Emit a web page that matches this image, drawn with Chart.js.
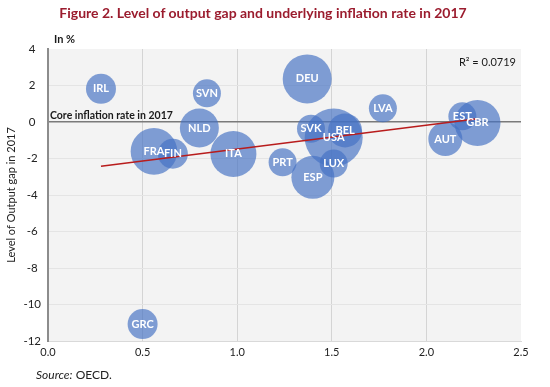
<!DOCTYPE html>
<html>
<head>
<meta charset="utf-8">
<script src="https://cdn.jsdelivr.net/npm/chart.js@4.4.1/dist/chart.umd.min.js"></script>
<style>
  html, body { margin: 0; padding: 0; background: #fff; }
  #wrap { position: relative; width: 550px; height: 387px; font-family: Lato, sans-serif; }
  #title { position: absolute; left: 0; top: 4px; width: 526px; text-align: center; color: #9b1c2e; font-size: 14px; font-weight: bold; }
  #source { position: absolute; left: 36px; top: 367px; font-size: 12px; color: #222; }
  canvas { position: absolute; left: 0; top: 0; }
</style>
</head>
<body>
<div id="wrap">
  <canvas id="chart" width="550" height="387"></canvas>
  <div id="title">Figure 2. Level of output gap and underlying inflation rate in 2017</div>
  <div id="source"><i>Source:</i> OECD.</div>
</div>
<script>
// data
const countries = ['IRL', 'SVN', 'NLD', 'FRA', 'FIN', 'ITA', 'PRT', 'DEU', 'SVK', 'USA', 'BEL', 'LUX', 'ESP', 'LVA', 'EST', 'GBR', 'AUT', 'GRC'];
const coreInflation = [0.28, 0.84, 0.80, 0.56, 0.66, 0.98, 1.24, 1.37, 1.39, 1.51, 1.57, 1.51, 1.40, 1.77, 2.19, 2.27, 2.10, 0.50];
const outputGap = [1.82, 1.57, -0.33, -1.61, -1.74, -1.75, -2.21, 2.36, -0.37, -0.85, -0.46, -2.28, -3.03, 0.75, 0.31, -0.05, -0.93, -11.07];
const bubbleSize = [15, 14, 19.5, 23.3, 15, 23, 14, 24.5, 14, 29, 17, 14, 21.5, 14, 14, 23, 17, 15];

// trend line ends (linear fit shown in the figure)
const trendX = [0.28, 2.27];
const trendY = [-2.42, 0.18];

const xTicks = [0, 0.5, 1.0, 1.5, 2.0, 2.5];
const yTicks = [4, 2, 0, -2, -4, -6, -8, -10, -12];

const FONT = 'Lato, sans-serif';

const plotBg = {
    id: 'plotBg',
    beforeDraw(chart) {
        const { ctx, chartArea: a } = chart;
        ctx.save();
        ctx.fillStyle = '#f3f3f3';
        ctx.fillRect(a.left, a.top, a.right - a.left, a.bottom - a.top);
        ctx.restore();
    }
};

const labels = {
    id: 'labels',
    afterDatasetsDraw(chart) {
        const { ctx, chartArea: a, scales } = chart;
        const meta = chart.getDatasetMeta(1);
        ctx.save();
        ctx.fillStyle = '#fff';
        ctx.font = 'bold 11px ' + FONT;
        ctx.textAlign = 'center';
        ctx.textBaseline = 'middle';
        meta.data.forEach((el, i) => ctx.fillText(countries[i], el.x, el.y));

        ctx.fillStyle = '#1a1a1a';
        ctx.textBaseline = 'alphabetic';
        ctx.textAlign = 'left';
        ctx.font = 'bold 10.5px ' + FONT;
        ctx.fillText('Core inflation rate in 2017', a.left + 2, scales.y.getPixelForValue(0) - 3);
        ctx.font = 'bold 11px ' + FONT;
        ctx.fillText('In %', 54, 43);

        ctx.font = '11px ' + FONT;
        ctx.textAlign = 'right';
        ctx.fillText('R² = 0.0719', a.right - 5, a.top + 17);
        ctx.restore();
    }
};

new Chart(document.getElementById('chart'), {
    type: 'bubble',
    data: {
        datasets: [{
            type: 'line',
            data: trendX.map((x, i) => ({ x: x, y: trendY[i] })),
            borderColor: '#b81c1c',
            borderWidth: 1.5,
            pointRadius: 0,
            order: 0
        }, {
            data: countries.map((c, i) => ({ x: coreInflation[i], y: outputGap[i], r: bubbleSize[i] })),
            backgroundColor: 'rgba(68, 114, 196, 0.67)',
            borderWidth: 0,
            order: 1
        }]
    },
    options: {
        responsive: false,
        animation: false,
        layout: { padding: { top: 49, right: 21, left: 0, bottom: 0 } },
        plugins: { legend: { display: false }, tooltip: { enabled: false } },
        scales: {
            x: {
                type: 'linear',
                min: 0, max: 2.5,
                afterFit: s => { s.height = 46; },
                afterBuildTicks: s => { s.ticks = xTicks.map(v => ({ value: v })); },
                ticks: { padding: 5, color: '#222', font: { family: FONT, size: 11 }, callback: v => v.toFixed(1) },
                grid: {
                    drawTicks: false,
                    color: c => (c.tick && c.tick.value === 2.5) ? 'rgba(0,0,0,0)' : '#d4d4d4'
                },
                border: { color: '#d9d9d9', width: 1 }
            },
            y: {
                type: 'linear',
                min: -12, max: 4,
                afterFit: s => { s.width = 48; },
                afterBuildTicks: s => { s.ticks = yTicks.map(v => ({ value: v })); },
                ticks: { padding: 7, crossAlign: 'center', color: '#222', font: { family: FONT, size: 11.5 } },
                grid: {
                    drawTicks: false,
                    color: c => {
                        if (!c.tick) return '#e4e4e4';
                        if (c.tick.value === 0) return '#7a7a7a';
                        if (c.tick.value === 4) return 'rgba(0,0,0,0)';
                        return '#e4e4e4';
                    },
                    lineWidth: c => (c.tick && c.tick.value === 0) ? 1.5 : 1
                },
                border: { color: '#8c8c8c', width: 2 },
                title: { display: true, text: 'Level of Output gap in 2017', color: '#222', font: { family: FONT, size: 11 }, padding: { top: 5, bottom: 0 } }
            }
        }
    },
    plugins: [plotBg, labels]
});
</script>
</body>
</html>
